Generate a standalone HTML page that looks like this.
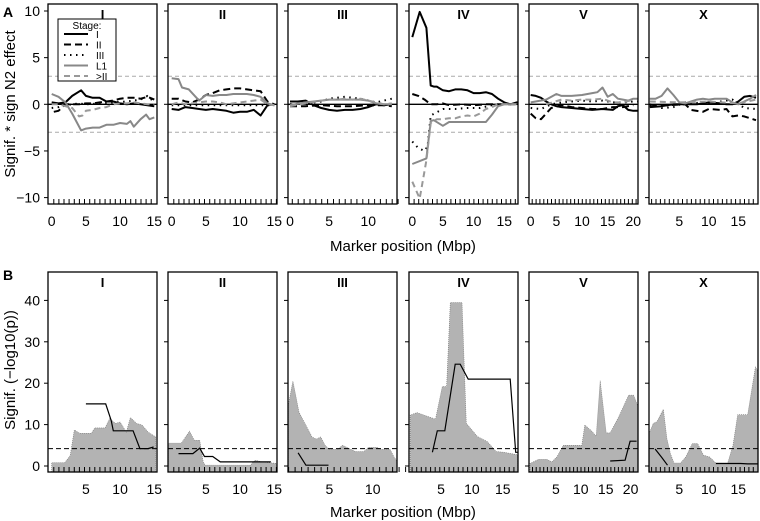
<!DOCTYPE html>
<html><head><meta charset="utf-8"><style>
body{margin:0;background:#fff}
svg{display:block;font-family:"Liberation Sans",sans-serif}
</style></head><body>
<svg id="c" width="760" height="521" viewBox="0 0 760 521"></svg>
<script>
// ---------- data ----------
const panelNames = ["I","II","III","IV","V","X"];
const stages = ["I","II","III","L1",">II"];
const aI_I   = [[0,1,2,3,4.3,5,6,7,8,9,10,11,12,13,14,15],[0.2,0.1,0.2,0.9,1.5,0.9,0.7,0.7,0.3,0.3,0.1,0,0.1,0,-0.1,-0.2]];
const aI_II  = [[0.3,1,2,3,4,5,6,7,8,9,10,11,12,13,14,15],[-0.8,-0.7,0,0,0,0.1,0.1,0.2,0.3,0.4,0.6,0.7,0.7,0.6,0.8,0.5]];
const aI_III = [[0,1,2,3,4,5,7,9,11,13,14,15],[-0.4,-0.3,-0.1,0,0.1,0,0.1,0.2,0.3,0.5,0.9,0.2]];
const aI_L1  = [[0,1,2,3,4.3,5,6,7,8,9,10,11,11.5,12,13,13.8,14.3,15],[1.1,0.8,0.2,-1,-2.8,-2.6,-2.5,-2.5,-2.2,-2.2,-2,-2.1,-1.8,-2.4,-1.6,-1.1,-1.6,-1.4]];
const aI_G2  = [[0,1,2,3,4,4.5,5,6,7,8,9,10,11,12,13,14,15],[0,0,-0.2,-0.4,-1.3,-1.2,-0.7,-0.6,-0.4,-0.3,0,0.1,0.1,0.2,0.1,0,0]];

const aII_I   = [[0,1,2,3,4,5,6,7,8,9,10,11,12,13,14,15],[-0.5,-0.6,-0.3,-0.4,-0.5,-0.6,-0.5,-0.6,-0.7,-0.9,-0.8,-0.8,-0.6,-1.2,-0.1,0]];
const aII_II  = [[0,1,2,3,4,5,6,7,8,9,10,11,12,13,14,15],[0.6,0.6,0.3,0.2,0.5,1,1.2,1.5,1.6,1.7,1.7,1.6,1.5,1.4,0.3,0]];
const aII_III = [[0,3,6,9,12,15],[-0.1,-0.1,-0.1,-0.1,-0.1,-0.1]];
const aII_L1  = [[0,1,1.5,2.5,3.5,4,5,6,7,8,9,10,11,12,13,14,15],[2.8,2.7,1.8,1.6,0.8,0.4,1,0.9,1,1,1.1,1.1,1.1,1,0.8,0.1,-0.1]];
const aII_G2  = [[0,1,2,3,4,5,6,7,8,9,10,11,12,13,14,15],[0,0.2,0,0.1,0.2,0.3,0.3,0.2,0,0.1,0.2,0.3,0.4,0.5,0,-0.1]];

const aIII_I   = [[0,1,2,3,4,5,6,7,8,9,10,11,12,13],[0.3,0.3,0.4,-0.1,-0.4,-0.6,-0.7,-0.6,-0.6,-0.5,-0.3,0,-0.1,0]];
const aIII_II  = [[0,2,4,6,8,10,12,13],[-0.2,-0.2,-0.1,-0.2,-0.2,-0.1,-0.1,-0.2]];
const aIII_III = [[0,2,4,5,7,9,11,13],[0,0.1,0.3,0.6,0.8,0.6,0.2,0.6]];
const aIII_L1  = [[0,2,3,4,5,6,7,8,9,10,11,12,13],[-0.1,0.2,0.3,0.4,0.5,0.5,0.5,0.5,0.5,0.4,0.1,0,0]];
const aIII_G2  = [[0,2,4,5,6,7,8,9,10,11,12,13],[-0.2,0.1,0.4,0.5,0.5,0.6,0.5,0.6,0.4,0.2,0,0.1]];

const aIV_I   = [[0,1.2,2.3,3,3.5,4,5,6,7,8,9,10,11,12,13,14,15,16,17,17.5],[7.2,9.9,8.2,2,1.9,1.9,1.5,1.4,1.6,1.6,1.5,1.2,1.2,1.3,1.1,0.6,0.2,0,0.2,0.2]];
const aIV_II  = [[0,1,2,3,4,5,6,8,10,12,14,17],[1.1,0.9,0.5,0,0,0.1,-0.1,0,-0.1,0,0,0]];
const aIV_III = [[0,1,2,2.5,3,5,7,9,11,13,15],[-4,-4.7,-5,-4.5,-1.2,-0.5,-0.5,-0.4,-0.4,-0.1,0]];
const aIV_L1  = [[0,2.3,3,3.5,5,6,8,10,12,13,14,15,17],[-6.4,-5.8,-1.8,-1.7,-2.3,-1.9,-1.9,-1.9,-1.9,-1.1,-0.2,0,0]];
const aIV_G2  = [[0,1.2,2.3,3,4,5,6,7,8,9,10,11,12,13,14,17],[-8.3,-10.1,-6,-2,-1.6,-1.6,-1.5,-1.5,-1.3,-1.2,-1.3,-1,-0.5,-0.3,0,0]];

const aV_I   = [[0,1,2,3,4,5,6,8,10,12,14,16,17,18,19,20,21],[1,0.9,0.7,0.3,0,-0.2,-0.3,-0.4,-0.5,-0.6,-0.5,-0.6,-0.2,-0.1,-0.6,-0.7,-0.7]];
const aV_II  = [[0,1,2,3,4,6,8,10,12,14,16,18,20],[-1,-1.5,-1.6,-1,-0.4,-0.1,-0.3,-0.4,-0.5,-0.5,-0.3,-0.3,-0.1]];
const aV_III = [[0,2,4,6,8,10,12,14,16,18,20,21],[-0.4,-0.5,0,0.2,0.3,0.4,0.3,0.4,0.2,0.2,0.3,0.3]];
const aV_L1  = [[0,3,5,6,8,10,12,13,14,15,16,17,18,19,20,21],[0.2,0.5,1.1,0.9,0.9,1,1.2,1.3,1.8,0.8,1.1,0.6,0.5,0.4,0.6,0.6]];
const aV_G2  = [[3,6,8,10,12,14,16,18,20],[0,0.5,0.4,0.5,0.5,0.6,0.2,0.2,0.5]];

const aX_I   = [[0,2,4,6,8,10,12,13,14,15,16,17,18],[-0.3,-0.2,0,0,0,0.2,0.1,0,0,0.3,0.8,0.9,0.7]];
const aX_II  = [[0,3,6,7,9,10,12,13,14,15,16,17,18],[-0.2,-0.1,0,-0.6,-0.8,-0.5,-0.6,-0.5,-1.3,-1.2,-1.3,-1.5,-1.7]];
const aX_III = [[0,2,4,6,10,14,16,18],[0,-0.4,-0.3,0.2,0.1,0.5,-0.4,-0.5]];
const aX_L1  = [[0,1,2,3,4,5,6,7,8,9,10,11,12,13,14,15,16,17,18],[0.6,0.6,0.9,1.7,1,0.2,0.1,0.3,0.5,0.6,0.5,0.6,0.6,0.6,0.2,0,0.3,0.6,1]];
const aX_G2  = [[0,5,10,15,18],[0.3,0.2,0.3,0.1,0.5]];

const seriesA = [
  [aI_I,aI_II,aI_III,aI_L1,aI_G2],
  [aII_I,aII_II,aII_III,aII_L1,aII_G2],
  [aIII_I,aIII_II,aIII_III,aIII_L1,aIII_G2],
  [aIV_I,aIV_II,aIV_III,aIV_L1,aIV_G2],
  [aV_I,aV_II,aV_III,aV_L1,aV_G2],
  [aX_I,aX_II,aX_III,aX_L1,aX_G2]
];

const bI_areaX = [0,1.9,2.7,3.3,4.1,5.8,6.3,7.8,8.5,9.3,10,10.9,11.5,12.4,13.2,14.1,15.2];
const bI_areaY = [0.8,0.8,2.5,8.7,7.9,7.9,9.2,9.2,11.5,10.3,10.6,8.2,11.7,10.3,9.9,8.2,7];
const bI_lineX = [5,7.9,8.7,9,11.9,12.9,14.1,14.9];
const bI_lineY = [15,15,11,8.5,8.5,4.2,4.2,4.6];
const bII_areaX = [-0.5,1.4,2.6,3.3,4.1,4.6,4.9,11.5,12.2,13.2,15.4];
const bII_areaY = [5.5,5.5,8.4,6.2,6.2,1,0.2,0.2,1.4,1,0.6];
const bII_lineX = [1,3.1,4.1,4.8,6,7.1,13.8,14.5];
const bII_lineY = [3,3,4.3,2.3,2.3,1,1,1];
const bIII_areaX = [0.27,0.8,1.5,2.5,3,3.5,4,4.5,5,6,6.5,7,8,9,9.5,10.5,11,12,12.5,12.8];
const bIII_areaY = [14.7,20.5,13,9,7,6.5,7,5,4,4,5,4.5,3.5,3.5,4.5,4.5,4,4,2,1.2];
const bIII_lineX = [1.4,2.3,4.9];
const bIII_lineY = [3.2,0.2,0.2];
const bIV_areaX = [0,1.1,4.1,5.2,5.9,6.5,8.4,9.1,10.9,12.5,13.9,15.2,17.4];
const bIV_areaY = [12.3,12.9,11.3,19.2,19.2,39.5,39.5,10.3,7.1,5.9,3.5,3.3,2.7];
const bIV_lineX = [3.6,4.4,5.6,7.3,8.1,9.4,16.2,17.1,17.8];
const bIV_lineY = [3.3,8.5,8.5,24.6,24.6,21,21,3.3,3.3];
const bV_areaX = [-0.2,1.5,3.2,4.2,5.2,6.5,10.2,10.8,12.2,13.1,13.9,15.1,15.9,17.6,19.6,20.6,21.5];
const bV_areaY = [0.6,1.6,1.6,1,2.2,5,5,9.9,8.4,7.2,20.6,8,8,11.8,17.1,17.1,14.3];
const bV_lineX = [15.9,18.9,19.9,21.2];
const bV_lineY = [1.2,1.4,6,6];
const bX_areaX = [-0.1,0.6,1.2,2.3,2.9,3.5,4.1,5.2,6.1,7.2,8.1,9.1,10.1,11.2,13.2,14.1,14.9,16.6,17.9,18.6];
const bX_areaY = [7.9,10.3,10.7,13.7,6.6,3,0.7,0.7,2.2,5.4,5.4,2.6,2.2,0.7,0.7,5,12.4,12.4,23.9,22.3];
const bX_lineX = [0.9,2,3];
const bX_lineY = [4.1,2.1,0.2];
const bX_line2X = [11.2,15.4,16.6,18.6];
const bX_line2Y = [0.6,0.6,0.5,0.5];
const seriesB = [
  [bI_areaX,bI_areaY,[[bI_lineX,bI_lineY]]],
  [bII_areaX,bII_areaY,[[bII_lineX,bII_lineY]]],
  [bIII_areaX,bIII_areaY,[[bIII_lineX,bIII_lineY]]],
  [bIV_areaX,bIV_areaY,[[bIV_lineX,bIV_lineY]]],
  [bV_areaX,bV_areaY,[[bV_lineX,bV_lineY]]],
  [bX_areaX,bX_areaY,[[bX_lineX,bX_lineY],[bX_line2X,bX_line2Y]]]
];
const threshB = 4.2;
const threshA = 3;
const ticksA = [[0,5,10,15],[0,5,10,15],[0,5,10],[0,5,10,15],[0,5,10,15,20],[5,10,15]];
const ticksB = [[5,10,15],[5,10,15],[5,10],[5,10,15],[5,10,15,20],[5,10,15]];
const yTicksA = [10,5,0,-5,-10];
const yTicksB = [0,10,20,30,40];
const chromLen = [15.1,15.3,13.8,17.5,20.9,17.7];

// ---------- layout ----------
const NS="http://www.w3.org/2000/svg";
const svg=document.getElementById('c');
function el(t,a,p){const e=document.createElementNS(NS,t);for(const k in a)e.setAttribute(k,a[k]);(p||svg).appendChild(e);return e;}
const boxL=[48,168,288,409,529,649], boxW=109;
const origA=[51.7,171.7,290,412.3,530.7,649.8], scA=[6.84,6.84,7.83,6.13,5.13,5.9];
const origB=[51.7,171.7,286,410.2,531,649.8], scB=[6.84,6.84,8.67,6.17,4.98,5.9];
const A={top:4,bot:204,y:v=>104.3-v*9.33};
const B={top:272,bot:472,y:v=>466-v*4.14};
const styles=[
 {stroke:"#000","stroke-dasharray":""},
 {stroke:"#000","stroke-dasharray":"7,4"},
 {stroke:"#000","stroke-dasharray":"1.5,4.5"},
 {stroke:"#888","stroke-dasharray":""},
 {stroke:"#999","stroke-dasharray":"6,4"}];

function txt(x,y,s,attrs,name){const t=el('text',Object.assign({x:x,y:y,'font-size':13,fill:'#000'},attrs||{}));t.textContent=s;


return t;}

txt(3,17,"A",{'font-weight':'bold','font-size':14},"panel-a-label");
txt(3,280,"B",{'font-weight':'bold','font-size':14},"panel-b-label");
txt(15,104,"Signif. * sign N2 effect",{'text-anchor':'middle','font-size':15,transform:'rotate(-90 15 104)'},"y-axis-title-a");
txt(15,370,"Signif. (\u2212log10(p))",{'text-anchor':'middle','font-size':15,transform:'rotate(-90 15 370)'},"y-axis-title-b");
txt(403,251,"Marker position (Mbp)",{'text-anchor':'middle','font-size':15},"x-axis-title-a");
txt(403,517,"Marker position (Mbp)",{'text-anchor':'middle','font-size':15},"x-axis-title-b");

function panel(i,P,orig,sc,ticks,yT,fig){
  const g=el('g',{});
  
  
  const L=boxL[i],R=L+boxW;
  const xs=v=>orig[i]+v*sc[i];
  const clipId='clip'+fig+i;
  const cp=el('clipPath',{id:clipId},g);el('rect',{x:L,y:P.top,width:boxW,height:P.bot-P.top},cp);
  const inner=el('g',{'clip-path':'url(#'+clipId+')'},g);
  if(fig==='a'){
    [threshA,-threshA].forEach(v=>{const l=el('line',{x1:L,x2:R,y1:P.y(v),y2:P.y(v),stroke:'#aaa','stroke-dasharray':'4,3','stroke-width':1},inner);
      
      });
    const z=el('line',{x1:L,x2:R,y1:P.y(0),y2:P.y(0),stroke:'#000','stroke-width':1.3},inner);
    
    
    seriesA[i].forEach((s,k)=>{
      const d=s[0].map((x,j)=>(j?'L':'M')+xs(x).toFixed(1)+','+P.y(s[1][j]).toFixed(1)).join('');
      const p=el('path',Object.assign({d:d,fill:'none','stroke-width':2,'stroke-linejoin':'round'},styles[k]),inner);
      
      
    });
  } else {
    const s=seriesB[i];
    let d='M'+xs(s[0][0]).toFixed(1)+','+P.bot;
    s[0].forEach((x,j)=>{d+='L'+xs(x).toFixed(1)+','+P.y(s[1][j]).toFixed(1);});
    d+='L'+xs(s[0][s[0].length-1]).toFixed(1)+','+P.bot+'Z';
    const a=el('path',{d:d,fill:'#b3b3b3',stroke:'#777','stroke-width':0.6,'stroke-dasharray':'1,1'},inner);
    
    
    const t=el('line',{x1:L,x2:R,y1:P.y(threshB),y2:P.y(threshB),stroke:'#000','stroke-dasharray':'5,3','stroke-width':1},inner);
    
    
    s[2].forEach(ln=>{
      const dd=ln[0].map((x,j)=>(j?'L':'M')+xs(x).toFixed(1)+','+P.y(ln[1][j]).toFixed(1)).join('');
      const p=el('path',{d:dd,fill:'none',stroke:'#000','stroke-width':1.2},inner);
      
      
    });
  }
  let rd='';
  for(let x=0.3;x<=chromLen[i];x+=0.75){rd+='M'+xs(x).toFixed(1)+','+P.bot+'v-5';}
  const rug=el('path',{d:rd,stroke:'#000','stroke-width':1},g);
  
  
  const b=el('rect',{x:L,y:P.top,width:boxW,height:P.bot-P.top,fill:'none',stroke:'#000','stroke-width':1.3},g);
  
  
  txt(L+boxW/2,P.top+15,panelNames[i],{'text-anchor':'middle','font-weight':'bold','font-size':13},'panel-title');
  yT.forEach(v=>{el('line',{x1:L-4,x2:L,y1:P.y(v),y2:P.y(v),stroke:'#000'},g);
    if(i===0) txt(L-8,P.y(v)+5,v<0?'\u2212'+(-v):String(v),{'text-anchor':'end','font-size':14},'y-tick-label');});
  ticks[i].forEach(v=>{txt(xs(v),P.bot+22,String(v),{'text-anchor':'middle','font-size':14},'x-tick-label');});
}
for(let i=0;i<6;i++){panel(i,A,origA,scA,ticksA,yTicksA,'a');panel(i,B,origB,scB,ticksB,yTicksB,'b');}

const lg=el('g',{});


el('rect',{x:58,y:19,width:58,height:62,fill:'#fff',stroke:'#000','stroke-width':1},lg);
txt(87,29,"Stage:",{'text-anchor':'middle','font-size':10},'legend-title');
stages.forEach((s,k)=>{const y=34+k*10.5;
  const l=el('line',Object.assign({x1:64,x2:88,y1:y,y2:y,'stroke-width':2},styles[k]),lg);
  
  
  txt(96,y+4,s,{'font-size':10},'legend-label');});
</script>
</body></html>
